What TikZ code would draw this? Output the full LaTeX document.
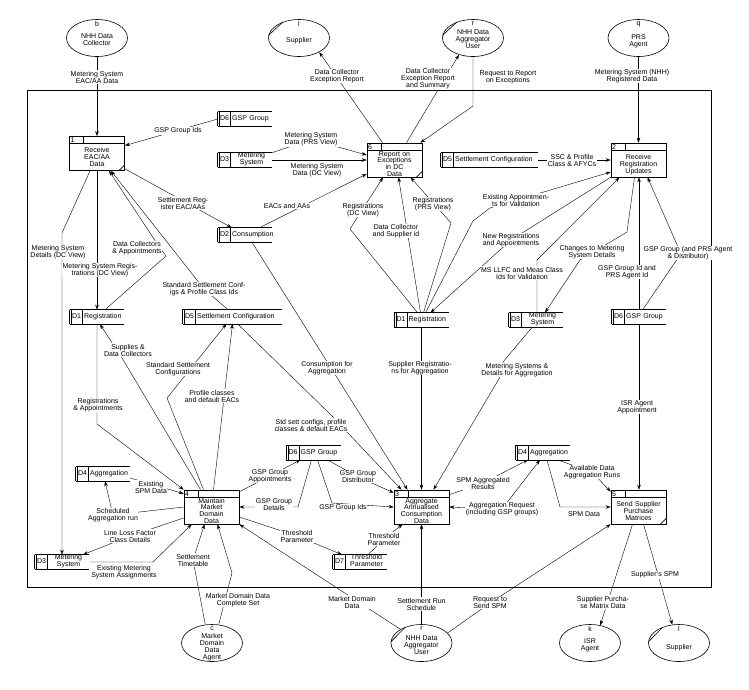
\documentclass[tikz,border=0pt]{standalone}
\usepackage{fontspec}
\setmainfont{Liberation Sans}
\usetikzlibrary{shapes.geometric,arrows.meta,backgrounds}

\begin{document}
\begin{tikzpicture}[x=1pt, y=-1pt, line width=0.6pt,
    every node/.style={font=\fontsize{7}{7}\selectfont},
    lbl/.style={align=center, inner sep=0.5pt, fill=white},
    flow/.style={-{Stealth[length=5pt,width=3.5pt]}},
    twoway/.style={{Stealth[length=5pt,width=3.5pt]}-{Stealth[length=5pt,width=3.5pt]}},
    entity/.style n args={3}{ellipse, draw, minimum width=61pt, minimum height=37pt, inner sep=0pt,
        label={[anchor=north, inner sep=2pt]north:#1},
        label={[anchor=north, align=center, inner sep=0.5pt, yshift=-#3]north:#2}},
    process/.style={draw, minimum width=55pt, minimum height=34pt, text width=53pt, inner sep=1pt, align=center,
        text height=15pt, text depth=17pt,
        label={[anchor=north west, inner sep=1pt, text width=8pt, align=left, text height=5pt, text depth=0pt]north west:#1},
        path picture={
            \draw ([yshift=-7pt]path picture bounding box.north west) -- ([yshift=-7pt]path picture bounding box.north east)
                  ([xshift=14pt]path picture bounding box.north west) -- ([xshift=14pt,yshift=-7pt]path picture bounding box.north west);}},
    fourlines/.style={font=\fontsize{7}{6.7}\selectfont, text height=12pt, text depth=20pt},
    store/.style={minimum width=#1, text width=#1, minimum height=14pt, inner sep=0pt, align=left,
        append after command={
            (\tikzlastnode.north west) edge (\tikzlastnode.north east)
            (\tikzlastnode.south west) edge (\tikzlastnode.south east)
            (\tikzlastnode.north west) edge (\tikzlastnode.south west)
            ([xshift=2pt]\tikzlastnode.north west) edge ([xshift=2pt]\tikzlastnode.south west)
            ([xshift=13pt]\tikzlastnode.north west) edge ([xshift=13pt]\tikzlastnode.south west)}},
    store/.default=54pt]
    \useasboundingbox (0,0) rectangle (749,689);

    \node[entity={b}{NHH Data\\Collector}{14pt}] (NHHDC) at (97,38) {};
    \node[entity={l}{Supplier}{17pt}] (SupplierTop) at (299,38) {};
    \node[entity={r}{NHH Data\\Aggregator\\User}{10pt}] (AggUserTop) at (473,38) {};
    \node[entity={q}{PRS\\Agent}{15pt}] (PRS) at (638.5,38) {};
    \node[entity={c}{Market\\Domain\\Data\\Agent}{8pt}] (MDDAgent) at (212,643) {};
    \node[entity={r}{NHH Data\\Aggregator\\User}{11pt}] (AggUserBot) at (421.5,643) {};
    \node[entity={k}{ISR\\Agent}{14pt}] (ISR) at (590,643) {};
    \node[entity={l}{Supplier}{19pt}] (SupplierBot) at (679,643) {};

    \node[process=1] (ReceiveEAC) at (97,153.5) {Receive\\EAC/AA\\Data};
    \node[process=2] (ReceiveReg) at (638.5,160) {Receive\\Registration\\Updates};
    \node[process=3, fourlines] (AggregateAC) at (421.5,507) {Aggregate\\Annualised\\Consumption\\Data};
    \node[process=4, fourlines] (MaintainMDD) at (211.5,507) {Maintain\\Market\\Domain\\Data};
    \node[process=5] (SendSPM) at (638.5,507) {Send Supplier\\Purchase\\Matrices};
    \node[process=6, fourlines] (ReportExc) at (394.5,160) {Report on\\Exceptions\\in DC\\Data};

    \node[store] (GSPTop) at (245,119) {\makebox[13pt]{D6}\,GSP Group};
    \node[store] (MSTop) at (245,160) {\makebox[13pt]{D3}\makebox[41pt]{\begin{tabular}{@{}c@{}}Metering\\System\end{tabular}}};
    \node[store] (Consumption) at (245,235) {\makebox[13pt]{D2}\,Consumption};
    \node[store=99pt] (SettCfgLeft) at (232.5,316.5) {\makebox[13pt]{D5}\,Settlement Configuration};
    \node[store] (RegLeft) at (97,317) {\makebox[13pt]{D1}\,Registration};
    \node[store=97pt] (SettCfgTop) at (489.5,160) {\makebox[13pt]{D5}\,Settlement Configuration};
    \node[store] (RegMid) at (421.5,320) {\makebox[13pt]{D1}\,Registration};
    \node[store] (MSRight) at (536,320) {\makebox[13pt]{D3}\makebox[41pt]{\begin{tabular}{@{}c@{}}Metering\\System\end{tabular}}};
    \node[store] (GSPRight) at (639,316.5) {\makebox[13pt]{D6}\,GSP Group};
    \node[store] (AggLeft) at (103,474) {\makebox[13pt]{D4}\,Aggregation};
    \node[store] (MSBot) at (62,562) {\makebox[13pt]{D3}\makebox[41pt]{\begin{tabular}{@{}c@{}}Metering\\System\end{tabular}}};
    \node[store] (GSPBot) at (313.5,452.5) {\makebox[13pt]{D6}\,GSP Group};
    \node[store] (Threshold) at (360,562) {\makebox[13pt]{D7}\makebox[41pt]{\begin{tabular}{@{}c@{}}Threshold\\Parameter\end{tabular}}};
    \node[store] (AggRight) at (543,452.5) {\makebox[13pt]{D4}\,Aggregation};

    \node[lbl] (lMSEAC) at (97,77) {Metering System\\EAC/AA Data};
    \node[lbl] (lGSPIds1) at (178,131) {GSP Group Ids};
    \node[lbl] (lMSPRS) at (311,139.5) {Metering System\\Data (PRS View)};
    \node[lbl] (lMSDC) at (317,170) {Metering System\\Data (DC View)};
    \node[lbl] (lEACs) at (287,206) {EACs and AAs};
    \node[lbl] (lSettReg) at (183,203) {Settlement Reg-\\ister EAC/AAs};
    \node[lbl] (lDCApp) at (137,248) {Data Collectors\\\& Appointments};
    \node[lbl] (lMSReg) at (100,270) {Metering System Regis-\\trations (DC View)};
    \node[lbl] (lMSDet) at (58,252) {Metering System\\Details (DC View)};
    \node[lbl] (lStdCfgIds) at (204,289) {Standard Settlement Conf-\\igs \& Profile Class Ids};
    \node[lbl] (lRegApp) at (98,405) {Registrations\\\& Appointments};
    \node[lbl] (lSupDC) at (128,350) {Supplies \&\\Data Collectors};
    \node[lbl] (lStdCfg) at (178,369) {Standard Settlement\\Configurations};
    \node[lbl] (lProfile) at (212,396) {Profile classes\\and default EACs};
    \node[lbl] (lStdSett) at (311,425) {Std sett configs, profile\\classes \& default EACs};
    \node[lbl] (lConsAgg) at (327,368) {Consumption for\\Aggregation};
    \node[lbl] (lSupReg) at (420,368) {Supplier Registratio-\\ns for Aggregation};
    \node[lbl] (lMSAgg) at (517,370) {Metering Systems \&\\Details for Aggregation};
    \node[lbl] (lRegDC) at (363,210) {Registrations\\(DC View)};
    \node[lbl] (lDCSup) at (396,231) {Data Collector\\and Supplier id};
    \node[lbl] (lRegPRS) at (433,204) {Registrations\\(PRS View)};
    \node[lbl] (lExApp) at (516,200) {Existing Appointmen-\\ts for Validation};
    \node[lbl] (lNewReg) at (511,240) {New Registrations\\and Appointments};
    \node[lbl] (lMSLLFC) at (522,273) {MS LLFC and Meas Class\\Ids for Validation};
    \node[lbl] (lChgMS) at (592,252) {Changes to Metering\\System Details};
    \node[lbl] (lGSPId) at (627,272) {GSP Group Id and\\PRS Agent Id};
    \node[lbl] (lGSPPRS) at (688,253) {GSP Group (and PRS Agent\\\& Distributor)};
    \node[lbl] (lReqRep) at (508,77) {Request to Report\\on Exceptions};
    \node[lbl] (lDCExc) at (337,76) {Data Collector\\Exception Report};
    \node[lbl] (lDCExcSum) at (428,79) {Data Collector\\Exception Report\\and Summary};
    \node[lbl] (lMSNHH) at (632,76) {Metering System (NHH)\\Registered Data};
    \node[lbl] (lSSC) at (572,160) {SSC \& Profile\\Class \& AFYCs};
    \node[lbl] (lISRApp) at (637,407) {ISR Agent\\Appointment};
    \node[lbl] (lExSPM) at (151,487) {Existing\\SPM Data};
    \node[lbl] (lSched) at (113,515) {Scheduled\\Aggregation run};
    \node[lbl] (lLLF) at (130,536) {Line Loss Factor\\Class Details};
    \node[lbl] (lExMS) at (124,572) {Existing Metering\\System Assignments};
    \node[lbl] (lSettTime) at (193,560) {Settlement\\Timetable};
    \node[lbl] (lMDDComp) at (238,600) {Market Domain Data\\Complete Set};
    \node[lbl] (lMDD) at (352,602) {Market Domain\\Data};
    \node[lbl] (lThr1) at (297,536) {Threshold\\Parameter};
    \node[lbl] (lThr2) at (384,539) {Threshold\\Parameter};
    \node[lbl] (lGSPApp) at (270,476) {GSP Group\\Appointments};
    \node[lbl] (lGSPDet) at (274,505) {GSP Group\\Details};
    \node[lbl] (lGSPIds2) at (343,508) {GSP Group Ids};
    \node[lbl] (lGSPDist) at (358,477) {GSP Group\\Distributor};
    \node[lbl] (lSPMAgg) at (483,483) {SPM Aggregated\\Results};
    \node[lbl] (lAggReq) at (502,509) {Aggregation Request\\(including GSP groups)};
    \node[lbl] (lAvail) at (592,472) {Available Data\\Aggregation Runs};
    \node[lbl] (lSPMData) at (584,514) {SPM Data};
    \node[lbl] (lSettRun) at (421.5,604) {Settlement Run\\Schedule};
    \node[lbl] (lReqSPM) at (490,603) {Request to\\Send SPM};
    \node[lbl] (lSupPM) at (603,602) {Supplier Purcha-\\se Matrix Data};
    \node[lbl] (lSupSPM) at (655,575) {Supplier's SPM};

    \draw (SupplierTop.175) -- (SupplierTop.135);
    \draw (AggUserTop.175) -- (AggUserTop.135);
    \draw (AggUserBot.178) -- (AggUserBot.135);
    \draw (SupplierBot.178) -- (SupplierBot.135);
    \draw ([xshift=-6pt]ReceiveEAC.south east) -- ([yshift=6pt]ReceiveEAC.south east);
    \draw ([xshift=-6pt]ReportExc.south east) -- ([yshift=6pt]ReportExc.south east);
    \draw ([xshift=-6pt]SendSPM.south east) -- ([yshift=6pt]SendSPM.south east);

    \begin{pgfonlayer}{background}
    \draw (27,90) rectangle (711,587);
    \draw[flow] (NHHDC) -- (ReceiveEAC);
    \draw[flow] (GSPTop.west) -- (ReceiveEAC);
    \draw[flow] (MSTop.north east) -- (lMSPRS.center) -- ([yshift=5pt]ReportExc.west);
    \draw[flow] (MSTop) -- (ReportExc);
    \draw[flow] (Consumption) -- (ReportExc);
    \draw[flow] (ReceiveEAC) -- (Consumption);
    \draw[flow] ([xshift=8pt]RegLeft.north) -- (166,256) -- (156,242) -- ([xshift=12pt]ReceiveEAC.south);
    \draw[flow] ([xshift=-5pt]SettCfgLeft.north) -- (lStdCfgIds.center) -- ([xshift=14pt]ReceiveEAC.south);
    \draw[flow] (ReceiveEAC) -- (RegLeft);
    \draw[flow] ([xshift=-7pt]ReceiveEAC.south) -- (62,233) -- (MSBot.north);
    \draw[flow] (RegLeft) -- (97,424) -- (MaintainMDD.north west);
    \draw[flow] ([xshift=-11pt]MaintainMDD.north) -- (122,358) -- ([xshift=3pt]RegLeft.south);
    \draw[flow] ([xshift=-8pt]MaintainMDD.north) -- (167,398) -- (183,378) -- ([xshift=-6pt]SettCfgLeft.south);
    \draw[flow] ([xshift=2pt]MaintainMDD.north) -- (SettCfgLeft.south);
    \draw[flow] ([xshift=5pt]SettCfgLeft.south) -- (333,417) -- (347,432) -- ([xshift=-20pt]AggregateAC.north);
    \draw[flow] ([xshift=7pt]Consumption.south) -- ([xshift=-14pt]AggregateAC.north);
    \draw[flow] (RegMid) -- (AggregateAC);
    \draw[flow] ([xshift=-4pt]MSRight.south) -- (503,362) -- (500,377) -- ([xshift=12pt]AggregateAC.north);
    \draw[flow] ([xshift=-4pt]RegMid.north) -- (350,229) -- ([xshift=-11.5pt]ReportExc.south);
    \draw[flow] ([xshift=-1pt]RegMid.north) -- ([xshift=4pt]ReportExc.south);
    \draw[flow] ([xshift=2pt]RegMid.north) -- (451,223) -- ([xshift=16pt]ReportExc.south);
    \draw[flow] ([xshift=4pt]RegMid.north) -- (473,221) -- (490,208) -- ([yshift=-12pt]ReceiveReg.west);
    \draw[flow] (ReceiveReg.south west) -- (lNewReg.center) -- ([xshift=9pt]RegMid.north);
    \draw[flow] ([xshift=1pt]MSRight.north) -- (537,260) -- ([xshift=-19pt]ReceiveReg.south);
    \draw[flow] ([xshift=-4pt]ReceiveReg.south) -- (627,232) -- (580,260) -- ([xshift=9pt]MSRight.north);
    \draw[flow] (GSPRight.north) -- (GSPRight.north |- ReceiveReg.south);
    \draw[flow] ([xshift=4pt]GSPRight.north) -- (678,258) -- (678,247) -- ([xshift=9pt]ReceiveReg.south);
    \draw[flow] (GSPRight.south) -- (GSPRight.south |- SendSPM.north);
    \draw[flow] (AggUserTop.south) -- (473,106) -- ([xshift=-2pt]ReportExc.north east);
    \draw[flow] ([xshift=-12pt]ReportExc.north) -- (SupplierTop.-35);
    \draw[flow] ([xshift=12pt]ReportExc.north) -- (AggUserTop.-130);
    \draw[flow] (PRS) -- (ReceiveReg);
    \draw[flow] (SettCfgTop) -- (ReceiveReg);
    \draw[flow] ([yshift=-4pt]AggLeft.east) -- ([yshift=-4pt]MaintainMDD.north west);
    \draw[flow] (MaintainMDD.west) -- (lSched.center) -- ([xshift=2pt]AggLeft.south);
    \draw[flow] ([yshift=-11pt]MaintainMDD.west) -- (lLLF.center) -- ([xshift=21pt]MSBot.north);
    \draw[flow] (MSBot.east) -- (153,562) -- ([xshift=8pt]MaintainMDD.south west);
    \draw[flow] (MDDAgent.110) -- (lSettTime.center) -- ([xshift=-7pt]MaintainMDD.south);
    \draw[flow] (MDDAgent.70) -- (232,573) -- ([xshift=6pt]MaintainMDD.south);
    \draw[flow] (AggUserBot) -- (MaintainMDD.south east);
    \draw[flow] ([yshift=-10pt]MaintainMDD.east) -- (lThr1.center) -- ([xshift=-18pt]Threshold.north);
    \draw[flow] ([xshift=8pt]Threshold.north) -- (lThr2.center) -- ([xshift=-19pt]AggregateAC.south);
    \draw[flow] ([yshift=-2pt]MaintainMDD.north east) -- (lGSPApp.center) -- ([xshift=-13pt]GSPBot.south);
    \draw[flow] ([xshift=-2pt]GSPBot.south) -- (298,507) -- (MaintainMDD.east);
    \draw[flow] ([xshift=4pt]GSPBot.south) -- (332,503) -- (AggregateAC.west);
    \draw[flow] ([xshift=14pt]GSPBot.south) -- (lGSPDist.center) -- ([yshift=-3pt]AggregateAC.north west);
    \draw[flow] ([yshift=-5pt]AggregateAC.north east) -- (lSPMAgg.center) -- ([xshift=-15pt]AggRight.south);
    \draw[twoway] ([xshift=-3pt]AggRight.south) -- (lAggReq.center) -- (AggregateAC.east);
    \draw[flow] ([xshift=14pt]AggRight.south) -- (lAvail.center) -- ([yshift=-2pt]SendSPM.north west);
    \draw[flow] ([xshift=4pt]AggRight.south) -- (560,507) -- (SendSPM.west);
    \draw[flow] (AggUserBot.north) -- (AggUserBot.north |- AggregateAC.south);
    \draw[flow] (AggUserBot.21) -- (lReqSPM.center) -- (SendSPM.south west);
    \draw[flow] ([xshift=-6pt]SendSPM.south) -- (ISR.60);
    \draw[flow] ([xshift=5pt]SendSPM.south) -- (SupplierBot.110);
    \end{pgfonlayer}
\end{tikzpicture}
\end{document}
